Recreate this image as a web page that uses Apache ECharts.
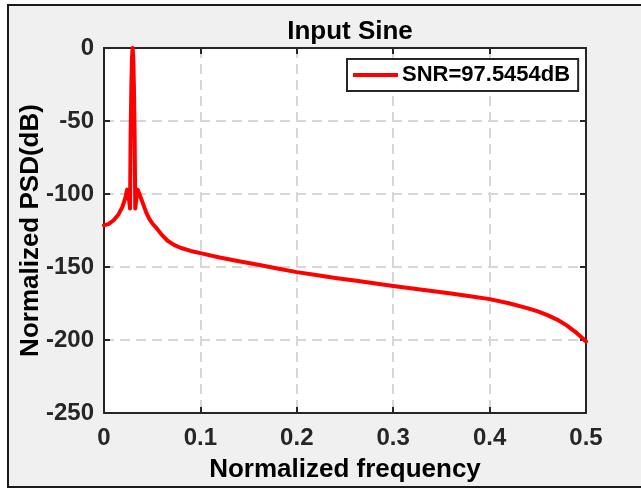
<!DOCTYPE html>
<html>
<head>
<meta charset="utf-8">
<script src="https://cdn.jsdelivr.net/npm/echarts@6/dist/echarts.min.js"></script>
<style>
html,body{margin:0;padding:0;background:#fff;}
#chart{width:641px;height:489px;}
</style>
</head>
<body>
<div id="chart"></div>
<script>
const titleText = 'Input Sine';
const xLabel = 'Normalized frequency';
const yLabel = 'Normalized PSD(dB)';
const seriesName = 'SNR=97.5454dB';

const freq = [0, 0.005, 0.01, 0.015, 0.019, 0.022, 0.024, 0.0258, 0.027, 0.0276, 0.0284, 0.0291, 0.0297,
  0.0303, 0.031, 0.0318, 0.0324, 0.0336, 0.035, 0.037, 0.039, 0.0415, 0.044, 0.047, 0.050, 0.0546, 0.06,
  0.066, 0.073, 0.08, 0.09, 0.10, 0.12, 0.14, 0.16, 0.18, 0.20, 0.22, 0.24, 0.26, 0.28, 0.30, 0.32, 0.34,
  0.36, 0.38, 0.40, 0.42, 0.44, 0.45, 0.46, 0.47, 0.48, 0.485, 0.49, 0.495, 0.5];
const psdDb = [-121.5, -120.5, -118, -114, -109, -103, -97, -103, -110, -60, -25, -6, 0,
  -6, -25, -60, -110, -103, -97, -100.5, -104, -108.5, -113, -117, -120, -123.5, -128,
  -132, -135, -137, -139, -140.5, -143.5, -146, -148.5, -151, -153.5, -155.5, -157.5, -159.3, -161.2, -163, -164.7, -166.4,
  -168.2, -170, -172, -174.8, -178.3, -180.4, -183, -186, -190, -192.5, -195, -198, -201];

const xMin = 0, xMax = 0.5, xStep = 0.1;
const yMin = -250, yMax = 0, yStep = 50;

const FONT = '"Liberation Sans", Arial, Helvetica, sans-serif';
const AX = '#262626';
const chart = echarts.init(document.getElementById('chart'), null, {renderer: 'canvas'});

const gridLine = {show: true, lineStyle: {color: '#d6d6d6', width: 2, type: [10, 6]}};
const tickInside = {show: true, inside: true, length: 6, lineStyle: {color: AX, width: 2}};

chart.setOption({
  backgroundColor: '#ffffff',
  animation: false,
  graphic: [{
    type: 'rect', z: -10,
    shape: {x: 8, y: 5, width: 700, height: 482},
    style: {fill: '#f0f0f0', stroke: '#1a1a1a', lineWidth: 2}
  }],
  title: {
    text: titleText, left: 345, top: 14, textAlign: 'center',
    textStyle: {fontFamily: FONT, fontSize: 26, fontWeight: 'bold', color: '#000'}
  },
  grid: {left: 104, top: 48, right: 55, bottom: 76, show: true, backgroundColor: '#ffffff', borderWidth: 0},
  legend: {
    data: [{name: seriesName, icon: 'rect'}],
    left: 347, top: 59, width: 230,
    itemWidth: 45, itemHeight: 4, itemGap: 4,
    padding: [5, 8, 5, 6],
    backgroundColor: '#ffffff', borderColor: AX, borderWidth: 2,
    textStyle: {fontFamily: FONT, fontSize: 22, fontWeight: 'bold', color: '#000', padding: [0, 0, 0, -1]}
  },
  xAxis: [{
    type: 'value', min: xMin, max: xMax, interval: xStep, position: 'bottom',
    name: xLabel, nameLocation: 'middle', nameGap: 44, nameMoveOverlap: false,
    nameTextStyle: {fontFamily: FONT, fontSize: 26, fontWeight: 'bold', color: '#000'},
    axisLine: {show: true, onZero: false, lineStyle: {color: AX, width: 2}},
    axisTick: tickInside,
    axisLabel: {margin: 13, fontFamily: FONT, fontSize: 24, fontWeight: 'bold', color: '#262626'},
    splitLine: gridLine
  }, {
    type: 'value', min: xMin, max: xMax, interval: xStep, position: 'top',
    axisLine: {show: true, onZero: false, lineStyle: {color: AX, width: 2}},
    axisTick: tickInside, axisLabel: {show: false}, splitLine: {show: false}
  }],
  yAxis: [{
    type: 'value', min: yMin, max: yMax, interval: yStep, position: 'left',
    name: yLabel, nameLocation: 'middle', nameGap: 60, nameRotate: 90, nameMoveOverlap: false,
    nameTextStyle: {fontFamily: FONT, fontSize: 26, fontWeight: 'bold', color: '#000'},
    axisLine: {show: true, onZero: false, lineStyle: {color: AX, width: 2}},
    axisTick: tickInside,
    axisLabel: {margin: 10, fontFamily: FONT, fontSize: 24, fontWeight: 'bold', color: '#262626'},
    splitLine: gridLine
  }, {
    type: 'value', min: yMin, max: yMax, interval: yStep, position: 'right',
    axisLine: {show: true, onZero: false, lineStyle: {color: AX, width: 2}},
    axisTick: tickInside, axisLabel: {show: false}, splitLine: {show: false}
  }],
  series: [{
    name: seriesName, type: 'line', xAxisIndex: 0, yAxisIndex: 0,
    data: freq.map((f, i) => [f, psdDb[i]]),
    showSymbol: false, smooth: false,
    lineStyle: {color: '#ff0000', width: 4, join: 'round', cap: 'round'},
    itemStyle: {color: '#ff0000'},
    z: 3
  }]
});
</script>
</body>
</html>
